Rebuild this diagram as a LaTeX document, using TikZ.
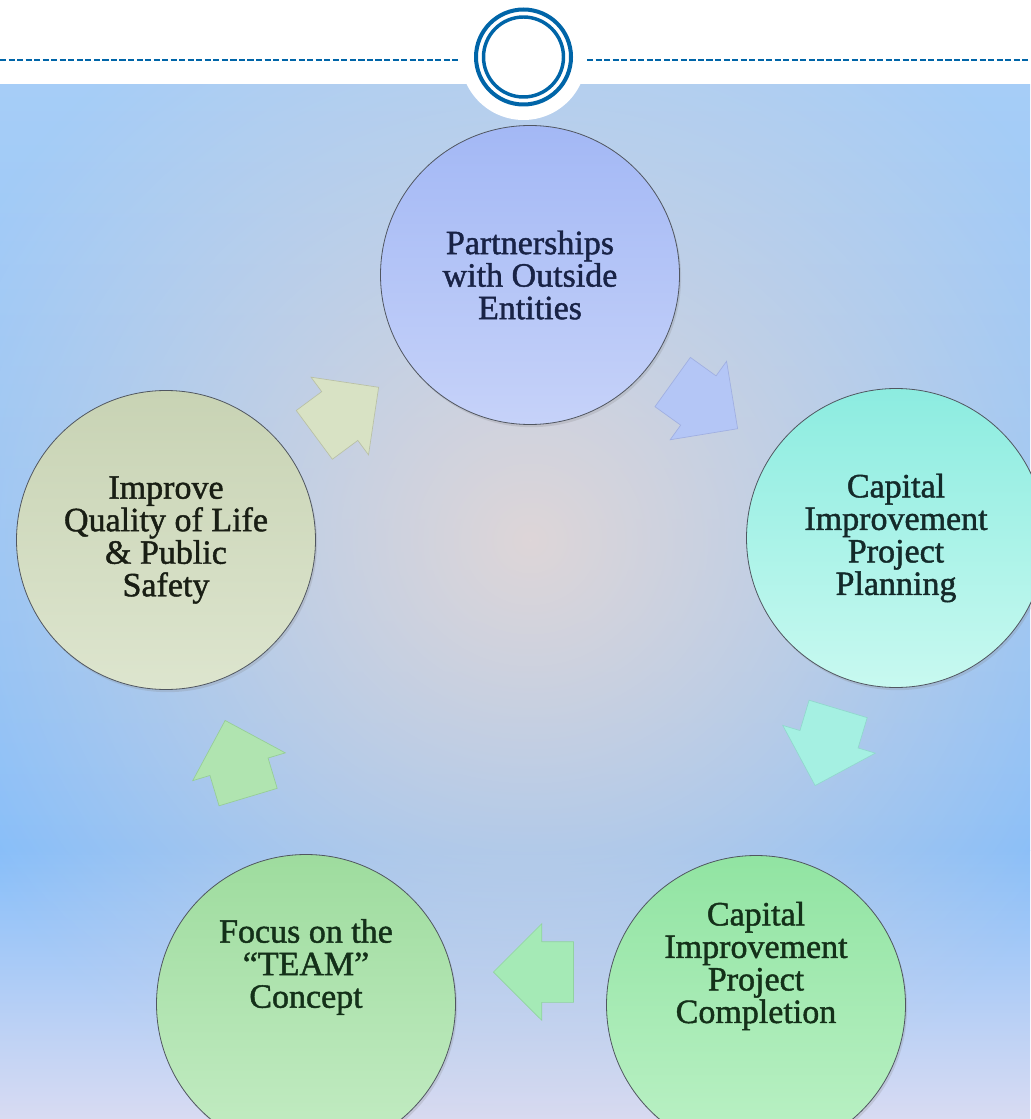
\documentclass[tikz,border=0pt]{standalone}
\usepackage{fontspec}
\newfontfamily\stagefont[FakeBold=1.3]{Liberation Serif}
\usetikzlibrary{shapes.arrows,shadows,fadings}

\definecolor{ringblue}{RGB}{0,101,168}
\definecolor{bgtop}{RGB}{166,205,247}
\definecolor{bgmid}{RGB}{134,190,250}
\definecolor{bglow}{RGB}{216,219,242}
\definecolor{bglight}{RGB}{222,214,216}

\tikzfading[name=glowfade, inner color=transparent!0, outer color=transparent!100]

\tikzset{
  stage/.style={circle, minimum size=224.25pt, inner sep=0pt, draw={rgb,255:red,80;green,86;blue,96}, line width=0.6pt,
    drop shadow={shadow xshift=1.2pt, shadow yshift=-2pt, opacity=0.22},
    align=center, font=\stagefont\fontsize{25.5}{24.4}\selectfont},
  stagetext/.style={align=center, font=\stagefont\fontsize{25.5}{24.4}\selectfont},
  cyclearrow/.style={single arrow, anchor=tip, minimum height=60pt, minimum width=0pt, inner xsep=0pt, inner ysep=22.5pt,
    single arrow head extend=13.5pt, line width=0.5pt},
}

\begin{document}
\begin{tikzpicture}[x=0.75pt,y=0.75pt,yscale=-1,xscale=1]
\useasboundingbox (0,0) rectangle (1030,1119);

% background
\fill[white] (0,0) rectangle (1030,85);
\shade[top color=bgtop, bottom color=bgmid] (0,85) rectangle (1030,850);
\shade[top color=bgmid, bottom color=bglow] (0,850) rectangle (1030,1119);
\begin{scope}
\clip (0,85) rectangle (1030,1119);
\fill[bglight, path fading=glowfade] (530,540) ellipse (640 and 620);
\end{scope}

% header rule and emblem
\coordinate (ruleL) at (0,60);
\coordinate (ruleLend) at (458,60);
\coordinate (ruleR) at (587,60);
\coordinate (ruleRend) at (1030,60);
\draw[ringblue, line width=1.9pt, dash pattern=on 4.6pt off 1.8pt] (ruleL) -- (ruleLend);
\draw[ringblue, line width=1.9pt, dash pattern=on 4.6pt off 1.8pt] (ruleR) -- (ruleRend);
\fill[white] (523.5,57) circle (63);
\draw[ringblue, line width=3pt] (523.5,57) circle (47.5);
\draw[ringblue, line width=2.6pt] (523.5,57) circle (40);

% stages
\node[stage, top color={rgb,255:red,163;green,184;blue,245}, bottom color={rgb,255:red,198;green,210;blue,249},
  text={rgb,255:red,25;green,35;blue,70}] (partners) at (530,275) {Partnerships\\with Outside\\Entities};
\node[stage, top color={rgb,255:red,140;green,236;blue,224}, bottom color={rgb,255:red,200;green,249;blue,240},
  text={rgb,255:red,20;green,42;blue,42}] (planning) at (896,538) {Capital\\Improvement\\Project\\Planning};
\node[stage, top color={rgb,255:red,145;green,228;blue,162}, bottom color={rgb,255:red,188;green,241;blue,198}] (completion) at (756,1005) {};
\node[stagetext, text={rgb,255:red,20;green,48;blue,25}] (completiontext) at (756,966) {Capital\\Improvement\\Project\\Completion};
\node[stage, top color={rgb,255:red,158;green,220;blue,158}, bottom color={rgb,255:red,196;green,236;blue,196}] (team) at (306,1004) {};
\node[stagetext, text={rgb,255:red,20;green,48;blue,25}] (teamtext) at (306,967) {Focus on the\\“TEAM”\\Concept};
\node[stage, top color={rgb,255:red,200;green,211;blue,180}, bottom color={rgb,255:red,221;green,229;blue,206},
  text={rgb,255:red,25;green,30;blue,20}] (quality) at (166,540) {Improve\\Quality of Life\\\&~Public\\Safety};

% arrows between stages
\node[cyclearrow, rotate=36.5, fill={rgb,255:red,216;green,226;blue,196}, draw={rgb,255:red,185;green,192;blue,165}] (toPartners) at (379,387) {};
\node[cyclearrow, rotate=-35.7, fill={rgb,255:red,180;green,198;blue,246}, draw={rgb,255:red,160;green,175;blue,225}] (toPlanning) at (738,429) {};
\node[cyclearrow, rotate=-106.7, fill={rgb,255:red,165;green,240;blue,226}, draw={rgb,255:red,145;green,215;blue,205}] (toCompletion) at (815,786) {};
\node[cyclearrow, rotate=180, fill={rgb,255:red,165;green,234;blue,182}, draw={rgb,255:red,145;green,210;blue,160}] (toTeam) at (493,972) {};
\node[cyclearrow, rotate=106.7, fill={rgb,255:red,176;green,228;blue,176}, draw={rgb,255:red,150;green,205;blue,150}] (toQuality) at (225,720) {};

\end{tikzpicture}
\end{document}
